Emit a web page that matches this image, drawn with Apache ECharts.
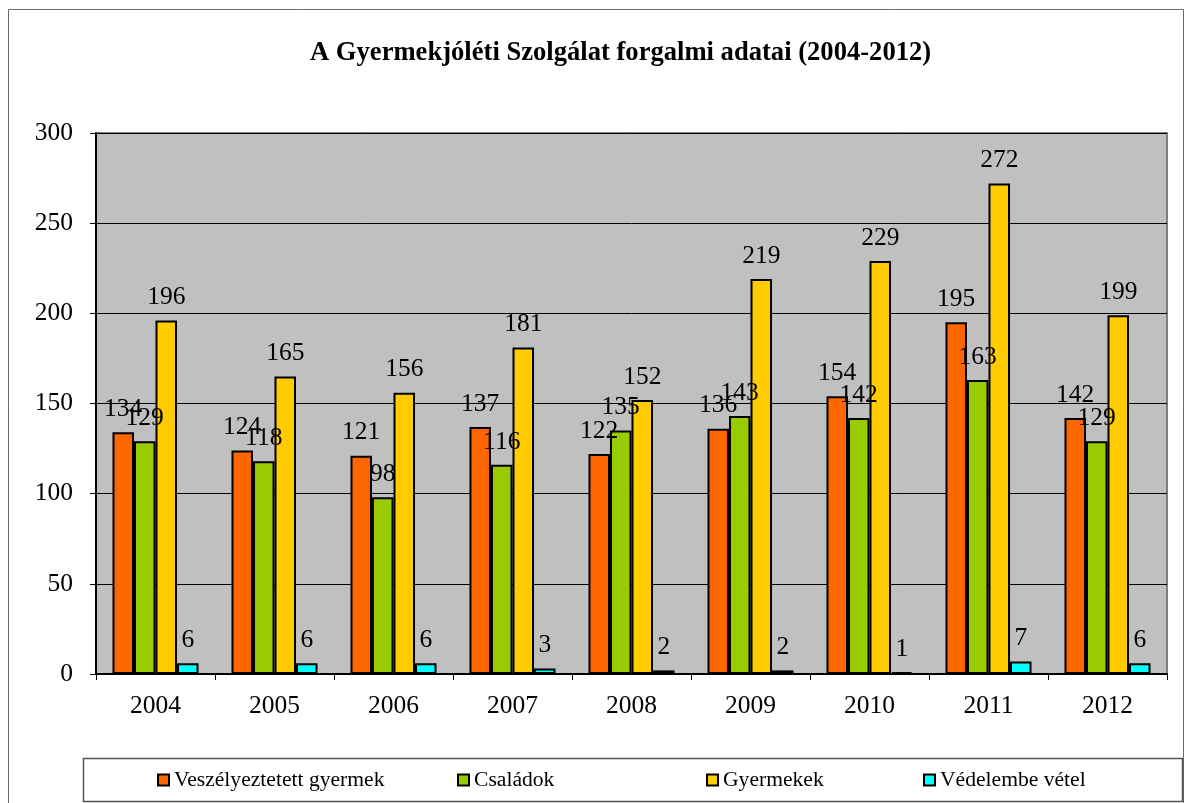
<!DOCTYPE html>
<html>
<head>
<meta charset="utf-8">
<title>A Gyermekjóléti Szolgálat forgalmi adatai (2004-2012)</title>
<script src="https://cdn.jsdelivr.net/npm/echarts@6/dist/echarts.min.js"></script>
<style>
  html, body { margin: 0; padding: 0; background: #ffffff; }
  #chart { width: 1185px; height: 803px; }
</style>
</head>
<body>
<div id="chart"></div>
<script>
// Years on the category axis
const years = ['2004', '2005', '2006', '2007', '2008', '2009', '2010', '2011', '2012'];

// Yearly counts per group
const veszelyeztetett = [134, 124, 121, 137, 122, 136, 154, 195, 142];
const csaladok = [129, 118, 98, 116, 135, 143, 142, 163, 129];
const gyermekek = [196, 165, 156, 181, 152, 219, 229, 272, 199];
const vedelembe = [6, 6, 6, 3, 2, 2, 1, 7, 6];

const seriesNames = ['Veszélyeztetett gyermek', 'Családok', 'Gyermekek', 'Védelembe vétel'];
const seriesColors = ['#FF6600', '#99CC00', '#FFCC00', '#00FFFF'];
const seriesData = [veszelyeztetett, csaladok, gyermekek, vedelembe];

const FONT = '"Liberation Serif", "Times New Roman", serif';

const chart = echarts.init(document.getElementById('chart'), null, { renderer: 'canvas' });

const legendLeft = [157, 457, 706, 923];

const option = {
  backgroundColor: '#ffffff',
  animation: false,
  title: {
    text: 'A Gyermekjóléti Szolgálat forgalmi adatai (2004-2012)',
    left: 310,
    top: 40,
    padding: 0,
    textStyle: { fontFamily: FONT, fontSize: 26.6, fontWeight: 'bold', color: '#000' }
  },
  legend: seriesNames.map((name, i) => ({
    data: [name],
    left: legendLeft[i],
    top: 769,
    padding: 0,
    itemWidth: 11,
    itemHeight: 11,
    icon: 'rect',
    selectedMode: false,
    itemStyle: { borderColor: '#000', borderWidth: 2 },
    textStyle: { fontFamily: FONT, fontSize: 21.6, color: '#000' }
  })),
  graphic: [
    {
      type: 'rect',
      shape: { x: 8.5, y: 9.5, width: 1175, height: 820 },
      style: { fill: null, stroke: '#6b6b6b', lineWidth: 1 },
      silent: true,
      z: -1
    },
    {
      type: 'rect',
      shape: { x: 83.5, y: 758.5, width: 1099, height: 43 },
      style: { fill: '#ffffff', stroke: '#555555', lineWidth: 1.5 },
      silent: true,
      z: -1
    }
  ],
  grid: {
    left: 96,
    right: 18,
    top: 133,
    bottom: 129,
    containLabel: false,
    show: true,
    backgroundColor: '#C0C0C0',
    borderColor: '#808080',
    borderWidth: 2
  },
  xAxis: {
    type: 'category',
    data: years,
    boundaryGap: true,
    axisLine: { show: true, lineStyle: { color: '#000', width: 2 } },
    axisTick: { show: true, length: 6, lineStyle: { color: '#000', width: 1 } },
    axisLabel: { margin: 19, fontFamily: FONT, fontSize: 25.5, color: '#000' },
    splitLine: { show: false }
  },
  yAxis: {
    type: 'value',
    min: 0,
    max: 300,
    interval: 50,
    axisLine: { show: true, lineStyle: { color: '#000', width: 2 } },
    axisTick: { show: true, length: 6, lineStyle: { color: '#000', width: 1 } },
    axisLabel: { margin: 23, fontFamily: FONT, fontSize: 25.5, color: '#000' },
    splitLine: { show: true, lineStyle: { color: '#000', width: 1 } }
  },
  series: seriesNames.map((name, i) => ({
    name: name,
    type: 'bar',
    data: seriesData[i],
    barGap: '0%',
    barCategoryGap: '27.7%',
    itemStyle: { color: seriesColors[i], borderColor: '#000', borderWidth: 2 },
    label: {
      show: true,
      position: 'top',
      distance: 10,
      fontFamily: FONT,
      fontSize: 25.5,
      color: '#000'
    }
  }))
};

chart.setOption(option);
</script>
</body>
</html>
